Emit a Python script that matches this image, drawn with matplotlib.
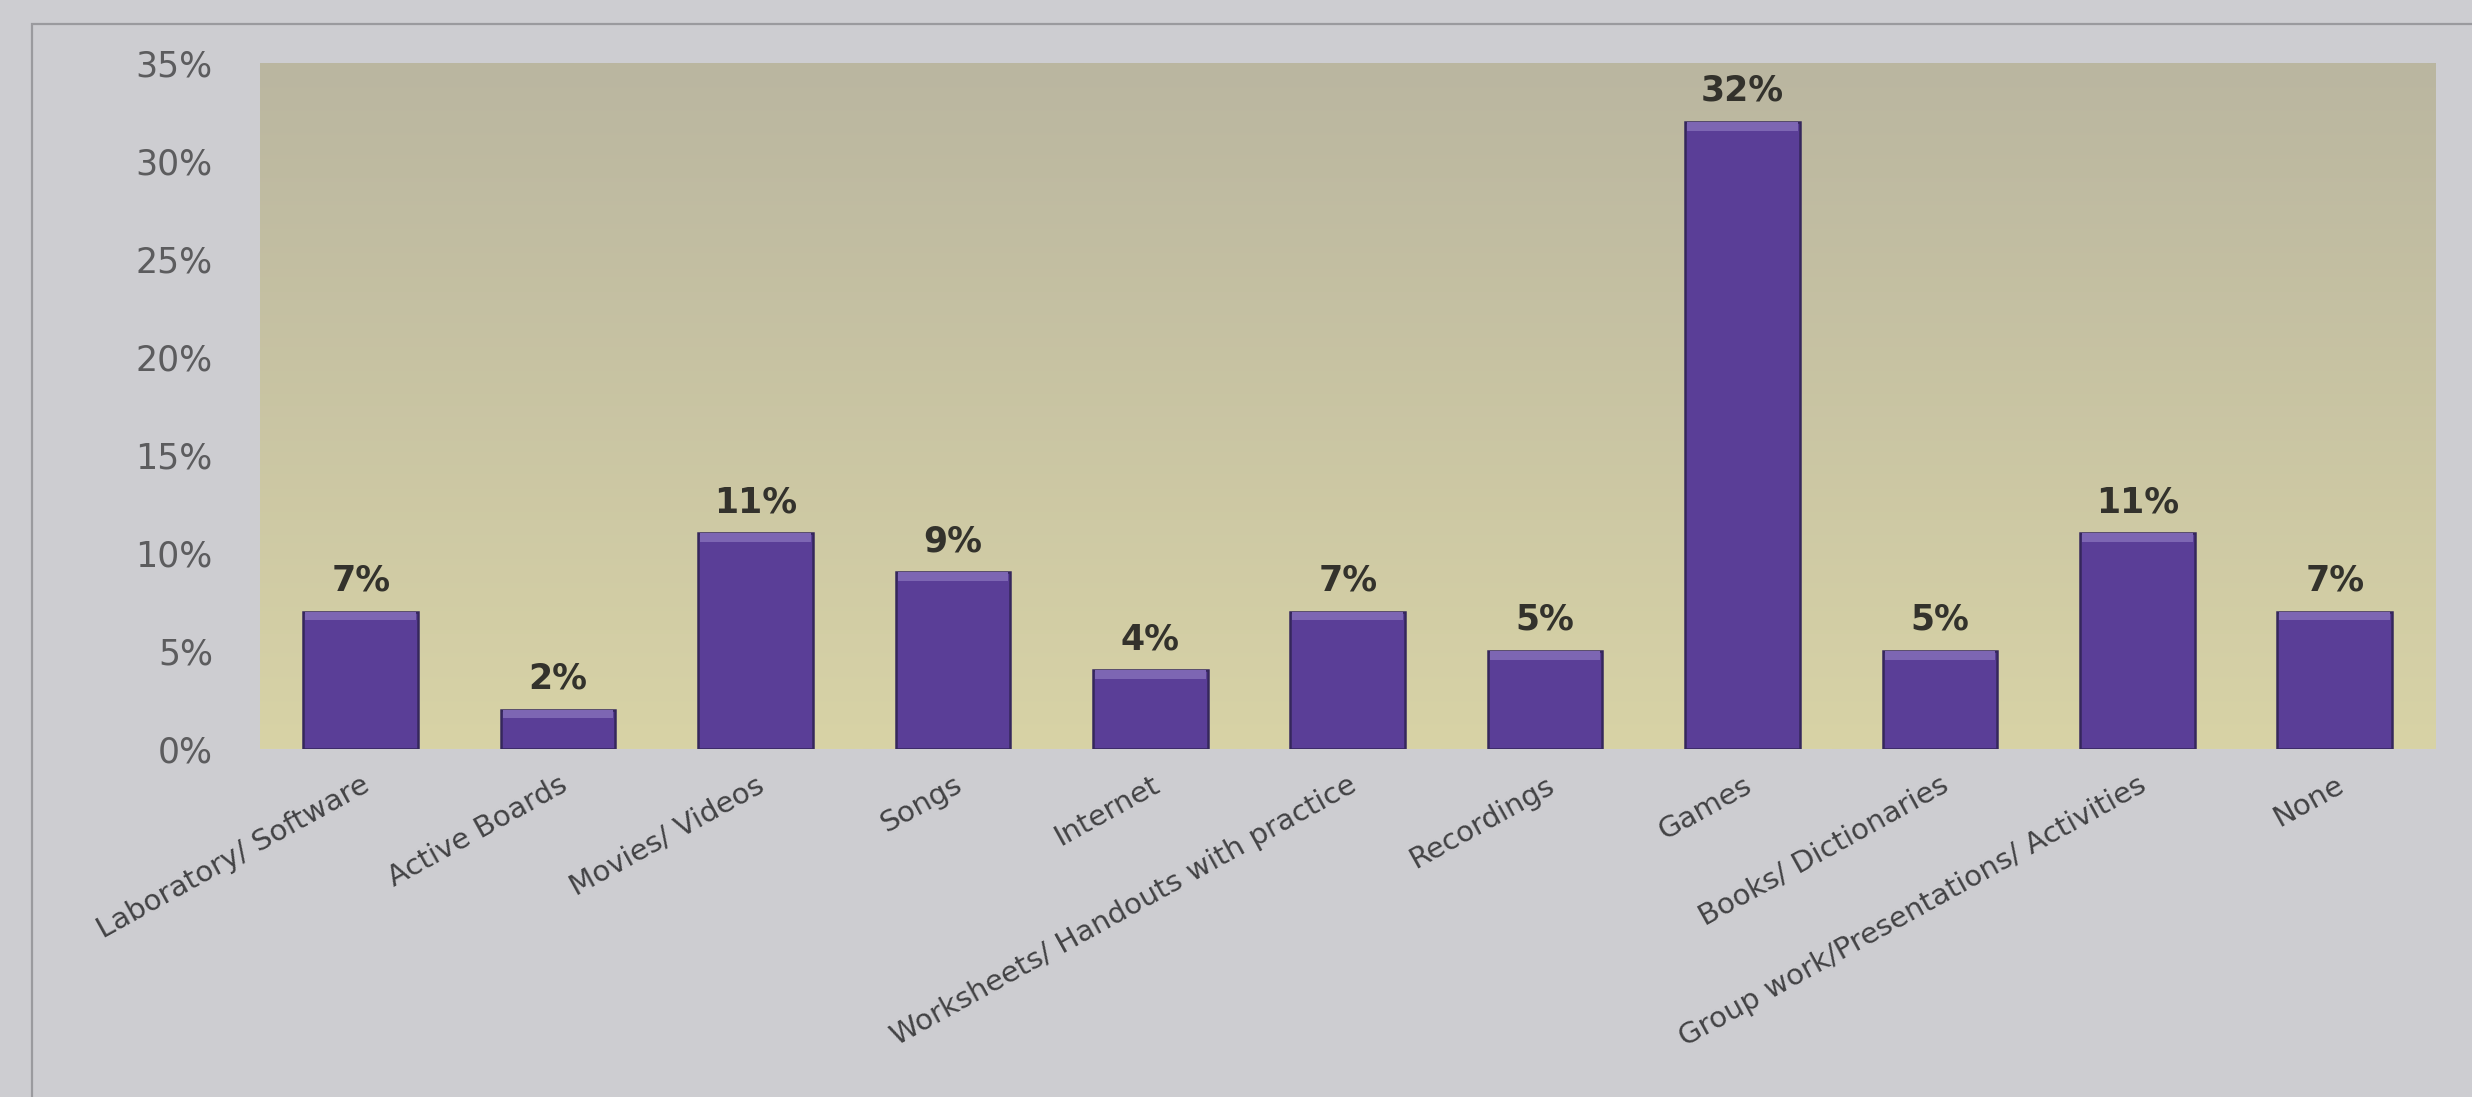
import matplotlib
matplotlib.use("Agg")
import matplotlib.pyplot as plt
from matplotlib.patches import Rectangle
import numpy as np

categories = ["Laboratory/ Software", "Active Boards", "Movies/ Videos", "Songs",
              "Internet", "Worksheets/ Handouts with practice", "Recordings", "Games",
              "Books/ Dictionaries", "Group work/Presentations/ Activities", "None"]
values = [7, 2, 11, 9, 4, 7, 5, 32, 5, 11, 7]
yticks = [0, 5, 10, 15, 20, 25, 30, 35]
ytick_labels = ["0%", "5%", "10%", "15%", "20%", "25%", "30%", "35%"]

plt.rcParams['font.family'] = ['DejaVu Sans']

fig = plt.figure(figsize=(24.72, 10.97), dpi=100)
fig.patch.set_facecolor('#cdcdd1')

# thin page frame around the chart
fig.patches.append(Rectangle((0.0128, -0.05), 1.1, 1.028, transform=fig.transFigure,
                             fill=False, edgecolor='#9a9a9e', linewidth=1.6))

ax = fig.add_axes([0.1052, 0.3175, 0.880, 0.625])
x = np.arange(len(categories))

# plot area: khaki-grey at the top fading to pale yellow at the bottom
grad = np.linspace(0, 1, 256).reshape(-1, 1)
top = np.array([186, 182, 160]) / 255
bottom = np.array([216, 211, 166]) / 255
img = top + (bottom - top) * grad[..., None]
ax.imshow(img, extent=(-0.51, len(x) - 0.49, 0, 35), aspect='auto', origin='upper', zorder=0)

ax.bar(x, values, width=0.58, color='#5a3e97', edgecolor='#35275c', linewidth=1.8, zorder=2)
# lighter rim at the top of each bar
ax.bar(x, [0.45] * len(x), bottom=np.array(values) - 0.45, width=0.56,
       color='#7d66b3', linewidth=0, zorder=3)

for xi, v in zip(x, values):
    ax.annotate(f"{v}%", (xi, v), xytext=(0, 10), textcoords='offset points',
                ha='center', va='bottom', fontsize=25, fontweight='bold', color='#33322c')

ax.set_xlim(-0.51, len(x) - 0.49)
ax.set_ylim(0, 35)
ax.set_yticks(yticks)
ax.set_yticklabels(ytick_labels, fontsize=25, color='#5c5c5e')
ax.set_xticks(x)
ax.set_xticklabels(categories, rotation=29, ha='right', va='top', rotation_mode='anchor',
                   fontsize=21, color='#424244')
ax.tick_params(axis='y', length=0, pad=34)
ax.tick_params(axis='x', length=0, pad=16)
for s in ax.spines.values():
    s.set_visible(False)

fig.savefig("out.png", dpi=100, facecolor=fig.get_facecolor())
